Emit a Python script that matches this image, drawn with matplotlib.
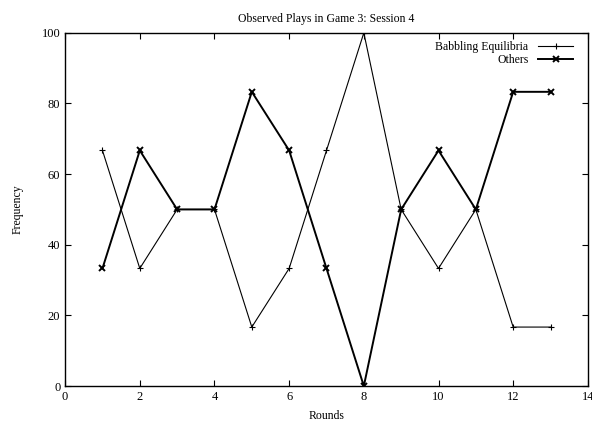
import matplotlib
matplotlib.use("Agg")
import matplotlib.pyplot as plt

rounds = [1, 2, 3, 4, 5, 6, 7, 8, 9, 10, 11, 12, 13]
babbling = [66.7, 33.3, 50, 50, 16.7, 33.3, 66.7, 100, 50, 33.3, 50, 16.7, 16.7]
others = [33.3, 66.7, 50, 50, 83.3, 66.7, 33.3, 0, 50, 66.7, 50, 83.3, 83.3]

plt.rcParams['font.family'] = ['Liberation Serif', 'DejaVu Serif']
plt.rcParams['font.size'] = 8.5

fig = plt.figure(figsize=(5.92, 4.21), dpi=100)
ax = fig.add_axes([0.110, 0.083, 0.883, 0.839])

ax.plot(rounds, babbling, color='black', lw=0.8, marker='+', ms=5, mew=0.8,
        label='Babbling Equilibria')
ax.plot(rounds, others, color='black', lw=1.4, marker='x', ms=4, mew=1.4,
        label='Others')

ax.set_xlim(0, 14)
ax.set_ylim(0, 100)
ax.set_xticks(range(0, 15, 2))
ax.set_yticks(range(0, 101, 20))
ax.tick_params(direction='in', top=True, right=True, length=4, width=0.8,
               labelsize=9)
for s in ax.spines.values():
    s.set_linewidth(1.0)

ax.set_title('Observed Plays in Game 3: Session 4', fontsize=8.5, pad=8)
ax.set_xlabel('Rounds', labelpad=5)
ax.set_ylabel('Frequency', labelpad=13)

leg = ax.legend(loc='upper right', bbox_to_anchor=(0.988, 1.0), frameon=False,
                markerfirst=False, handlelength=3, borderaxespad=0.3,
                labelspacing=0.1)
for t in leg.get_texts():
    t.set_ha('right')

fig.savefig('out.png', dpi=100)
